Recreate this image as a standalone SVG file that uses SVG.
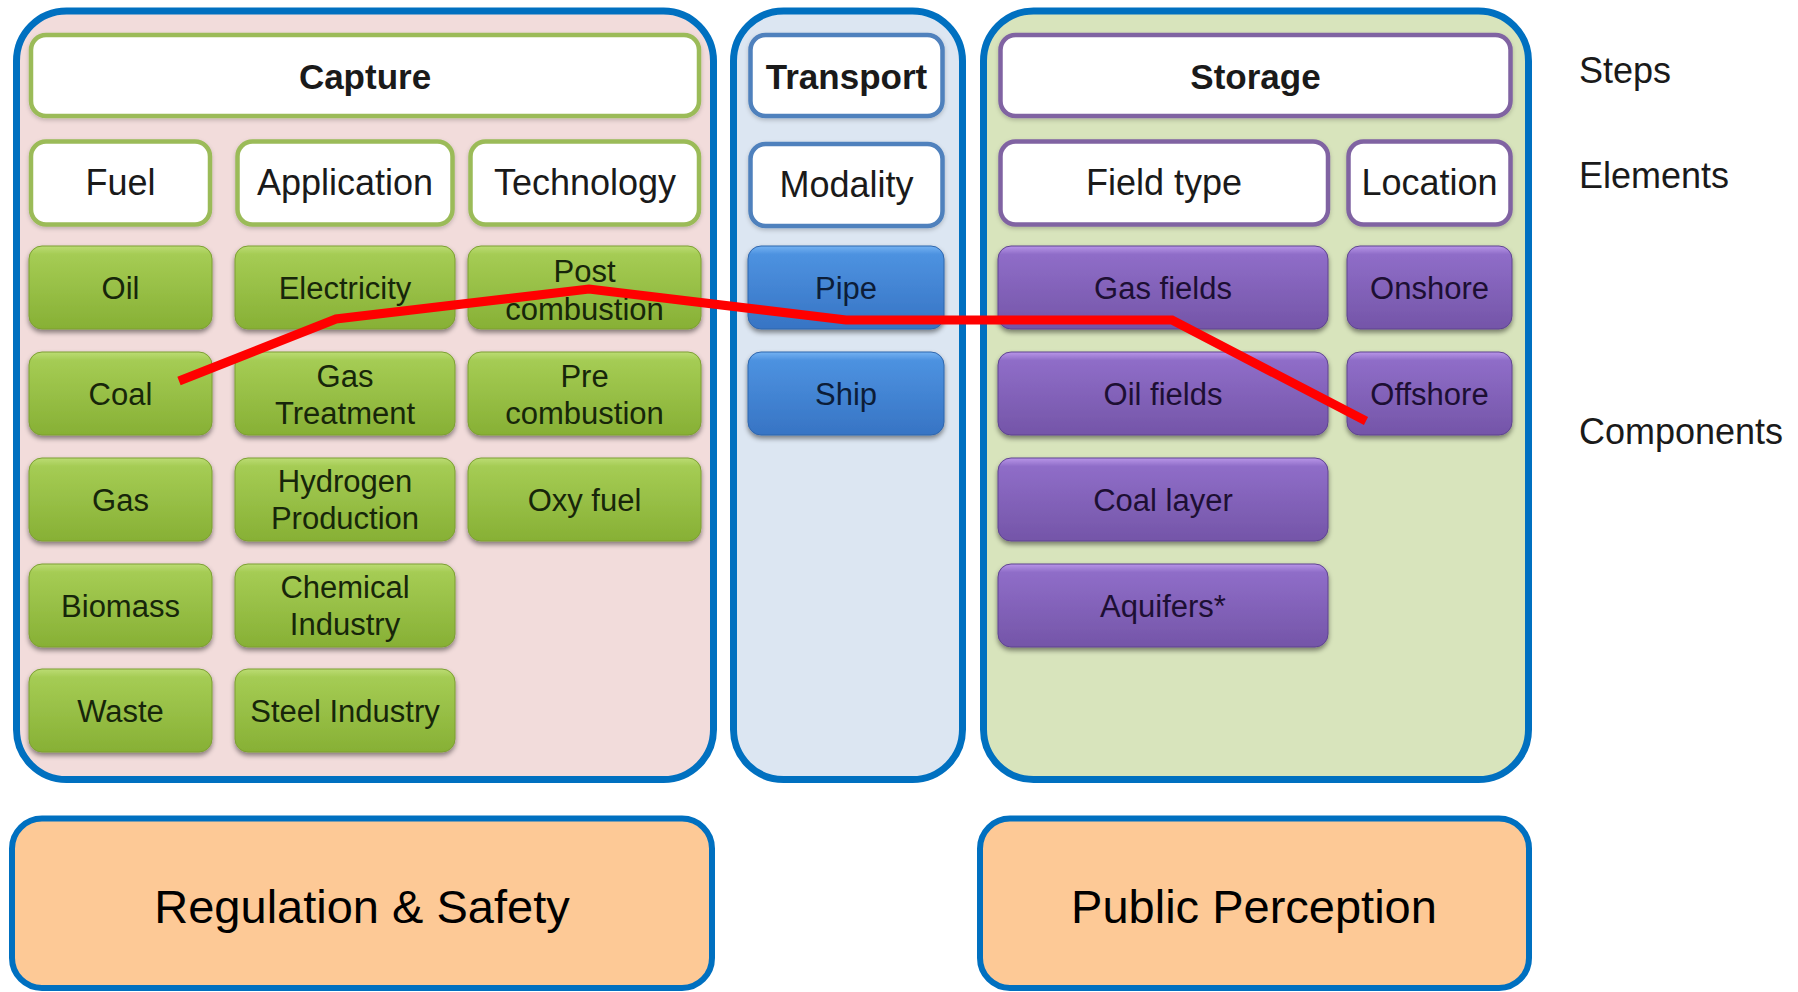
<svg xmlns="http://www.w3.org/2000/svg" width="1798" height="992" viewBox="0 0 1798 992">
<defs>
<linearGradient id="gGreen" x1="0" y1="0" x2="0" y2="1">
<stop offset="0" stop-color="#bcdc74"/><stop offset="0.1" stop-color="#a5cc54"/><stop offset="1" stop-color="#87b035"/>
</linearGradient>
<linearGradient id="gBlue" x1="0" y1="0" x2="0" y2="1">
<stop offset="0" stop-color="#74b2f2"/><stop offset="0.1" stop-color="#4d92e0"/><stop offset="1" stop-color="#3774c4"/>
</linearGradient>
<linearGradient id="gPurple" x1="0" y1="0" x2="0" y2="1">
<stop offset="0" stop-color="#b996e8"/><stop offset="0.1" stop-color="#8f6dc8"/><stop offset="1" stop-color="#7455a8"/>
</linearGradient>
<filter id="sh" x="-10%" y="-10%" width="120%" height="130%">
<feDropShadow dx="0" dy="3" stdDeviation="2.5" flood-color="#000" flood-opacity="0.45"/>
</filter>
<filter id="shL" x="-10%" y="-10%" width="120%" height="130%">
<feDropShadow dx="0" dy="2" stdDeviation="2" flood-color="#000" flood-opacity="0.2"/>
</filter>
</defs>
<style>
text{font-family:"Liberation Sans",Arial,sans-serif;text-anchor:middle;fill:#1a1a1a}
.panel{stroke:#0070c0;stroke-width:7}
.hdr{fill:#fff;stroke-width:4.5;filter:url(#shL)}
.hg{stroke:#9bbb59}.hb{stroke:#4f81bd}.hp{stroke:#8064a2}
.step{font-size:35px;font-weight:bold}
.elem{font-size:36px}
.btn{filter:url(#sh)}
.bg{fill:url(#gGreen);stroke:#7c9f32;stroke-width:1}
.bb{fill:url(#gBlue);stroke:#2f66ad;stroke-width:1}
.bp{fill:url(#gPurple);stroke:#5f4490;stroke-width:1}
.cg{font-size:31px;fill:#17260a}
.cb{font-size:31px;fill:#0c1d38}
.cp{font-size:31px;fill:#1d0f33}
.side{font-size:36px;text-anchor:start}
.bottom{fill:#fdc996;stroke:#0070c0;stroke-width:6}
.big{font-size:47px;fill:#000}
</style>

<g id="capture-panel">
<rect class="panel" x="16.5" y="11" width="697" height="768.5" rx="50" fill="#f2dcdb"/>
</g>
<g id="transport-panel">
<rect class="panel" x="733.5" y="11" width="229" height="768.5" rx="50" fill="#dce6f2"/>
</g>
<g id="storage-panel">
<rect class="panel" x="983.5" y="11" width="545" height="768.5" rx="50" fill="#d8e4bc"/>
</g>

<!-- Steps -->
<g id="capture"><rect class="hdr hg" x="31" y="35" width="668" height="81" rx="15"/><text class="step" x="365" y="89">Capture</text></g>
<g id="transport"><rect class="hdr hb" x="750.5" y="35" width="192" height="81" rx="15"/><text class="step" x="846.5" y="89">Transport</text></g>
<g id="storage"><rect class="hdr hp" x="1000.5" y="35" width="510" height="81" rx="15"/><text class="step" x="1255.5" y="89">Storage</text></g>

<!-- Elements -->
<g id="fuel"><rect class="hdr hg" x="31" y="141.5" width="179" height="83" rx="15"/><text class="elem" x="120.5" y="195">Fuel</text></g>
<g id="application"><rect class="hdr hg" x="237.5" y="141.5" width="215" height="83" rx="15"/><text class="elem" x="345" y="195">Application</text></g>
<g id="technology"><rect class="hdr hg" x="470.5" y="141.5" width="228.5" height="83" rx="15"/><text class="elem" x="585" y="195">Technology</text></g>
<g id="modality"><rect class="hdr hb" x="750.5" y="144" width="192" height="82" rx="15"/><text class="elem" x="846.5" y="197">Modality</text></g>
<g id="field-type"><rect class="hdr hp" x="1000.5" y="141.5" width="327.5" height="83" rx="15"/><text class="elem" x="1164" y="195">Field type</text></g>
<g id="location"><rect class="hdr hp" x="1348.5" y="141.5" width="162" height="83" rx="15"/><text class="elem" x="1429.5" y="195">Location</text></g>

<!-- Capture components -->
<g id="oil"><rect class="btn bg" x="29" y="246" width="183" height="83" rx="13"/><text class="cg" x="120.5" y="299">Oil</text></g>
<g id="coal"><rect class="btn bg" x="29" y="352" width="183" height="83" rx="13"/><text class="cg" x="120.5" y="405">Coal</text></g>
<g id="gas"><rect class="btn bg" x="29" y="458" width="183" height="83" rx="13"/><text class="cg" x="120.5" y="511">Gas</text></g>
<g id="biomass"><rect class="btn bg" x="29" y="564" width="183" height="83" rx="13"/><text class="cg" x="120.5" y="617">Biomass</text></g>
<g id="waste"><rect class="btn bg" x="29" y="669" width="183" height="83" rx="13"/><text class="cg" x="120.5" y="722">Waste</text></g>

<g id="electricity"><rect class="btn bg" x="235" y="246" width="220" height="83" rx="13"/><text class="cg" x="345" y="299">Electricity</text></g>
<g id="gas-treatment"><rect class="btn bg" x="235" y="352" width="220" height="83" rx="13"/><text class="cg" x="345" y="387">Gas</text><text class="cg" x="345" y="424">Treatment</text></g>
<g id="hydrogen-production"><rect class="btn bg" x="235" y="458" width="220" height="83" rx="13"/><text class="cg" x="345" y="492">Hydrogen</text><text class="cg" x="345" y="529">Production</text></g>
<g id="chemical-industry"><rect class="btn bg" x="235" y="564" width="220" height="83" rx="13"/><text class="cg" x="345" y="598">Chemical</text><text class="cg" x="345" y="635">Industry</text></g>
<g id="steel-industry"><rect class="btn bg" x="235" y="669" width="220" height="83" rx="13"/><text class="cg" x="345" y="722">Steel Industry</text></g>

<g id="post-combustion"><rect class="btn bg" x="468" y="246" width="233" height="83" rx="13"/><text class="cg" x="584.5" y="282">Post</text><text class="cg" x="584.5" y="320">combustion</text></g>
<g id="pre-combustion"><rect class="btn bg" x="468" y="352" width="233" height="83" rx="13"/><text class="cg" x="584.5" y="387">Pre</text><text class="cg" x="584.5" y="424">combustion</text></g>
<g id="oxy-fuel"><rect class="btn bg" x="468" y="458" width="233" height="83" rx="13"/><text class="cg" x="584.5" y="511">Oxy fuel</text></g>

<!-- Transport components -->
<g id="pipe"><rect class="btn bb" x="748" y="246" width="196" height="83" rx="13"/><text class="cb" x="846" y="299">Pipe</text></g>
<g id="ship"><rect class="btn bb" x="748" y="352" width="196" height="83" rx="13"/><text class="cb" x="846" y="405">Ship</text></g>

<!-- Storage components -->
<g id="gas-fields"><rect class="btn bp" x="998" y="246" width="330" height="83" rx="13"/><text class="cp" x="1163" y="299">Gas fields</text></g>
<g id="oil-fields"><rect class="btn bp" x="998" y="352" width="330" height="83" rx="13"/><text class="cp" x="1163" y="405">Oil fields</text></g>
<g id="coal-layer"><rect class="btn bp" x="998" y="458" width="330" height="83" rx="13"/><text class="cp" x="1163" y="511">Coal layer</text></g>
<g id="aquifers"><rect class="btn bp" x="998" y="564" width="330" height="83" rx="13"/><text class="cp" x="1163" y="617">Aquifers*</text></g>
<g id="onshore"><rect class="btn bp" x="1347" y="246" width="165" height="83" rx="13"/><text class="cp" x="1429.5" y="299">Onshore</text></g>
<g id="offshore"><rect class="btn bp" x="1347" y="352" width="165" height="83" rx="13"/><text class="cp" x="1429.5" y="405">Offshore</text></g>

<!-- Side labels -->
<g id="labels">
<text class="side" x="1579" y="83">Steps</text>
<text class="side" x="1579" y="188">Elements</text>
<text class="side" x="1579" y="444">Components</text>
</g>

<!-- Bottom boxes -->
<g id="regulation-safety"><rect class="bottom" x="12" y="818.5" width="700" height="169.5" rx="30"/><text class="big" x="362" y="923">Regulation &amp; Safety</text></g>
<g id="public-perception"><rect class="bottom" x="980" y="818.5" width="549" height="169.5" rx="30"/><text class="big" x="1254" y="923">Public Perception</text></g>

<!-- Connectors -->
<g id="connectors">
<polyline points="179,381 336,319 589,289 846,320 1172,320 1366,421" fill="none" stroke="#ff0000" stroke-width="9" stroke-linejoin="miter"/>
</g>
</svg>
